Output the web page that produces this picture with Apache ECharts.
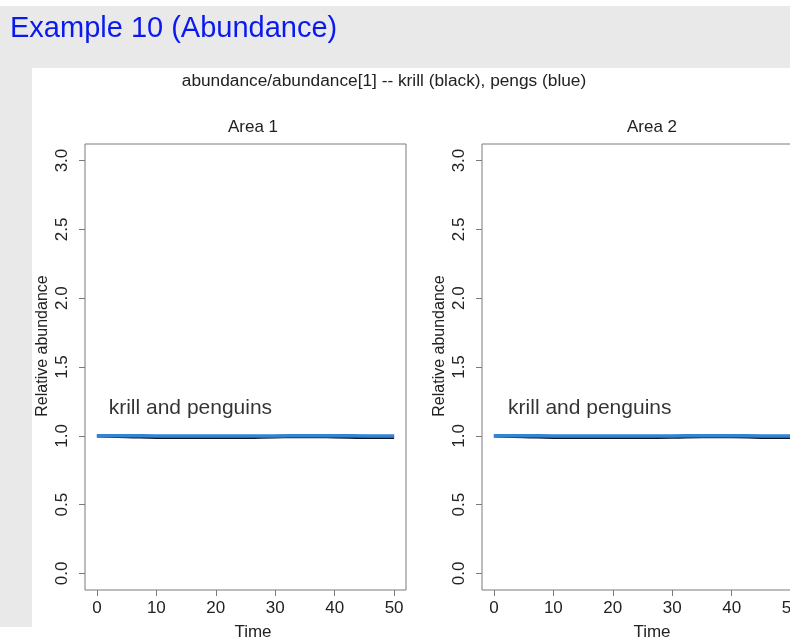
<!DOCTYPE html>
<html>
<head>
<meta charset="utf-8">
<title>Example 10 (Abundance)</title>
<script src="https://cdn.jsdelivr.net/npm/echarts@6/dist/echarts.min.js"></script>
<style>
    html, body { margin: 0; padding: 0; background: #ffffff; overflow: hidden; width: 790px; height: 637px; }
    #main { width: 830px; height: 637px; }
</style>
</head>
<body>
<div id="main"></div>
<script>
// time steps, relative abundance per area
var time = [0, 5, 10, 15, 20, 25, 30, 35, 40, 45, 50];
var krillArea1 = [1.000, 0.996, 0.990, 0.989, 0.989, 0.990, 0.994, 0.996, 0.994, 0.990, 0.989];
var pengsArea1 = [1.000, 1.000, 0.999, 0.998, 0.998, 0.998, 0.999, 1.000, 1.000, 0.999, 0.998];
var krillArea2 = [1.000, 0.996, 0.990, 0.989, 0.989, 0.990, 0.991, 0.995, 0.995, 0.990, 0.989];
var pengsArea2 = [1.000, 1.000, 0.999, 0.998, 0.998, 0.998, 0.999, 1.000, 1.000, 0.999, 0.998];
var xTicks = [0, 10, 20, 30, 40, 50];
var yTicks = [0, 0.5, 1, 1.5, 2, 2.5, 3];
var noteArea1 = [1.9, 1.2];
var noteArea2 = [2.3, 1.2];

var FONT = 'Arial, "Liberation Sans", sans-serif';
var BOX = '#7a7a7a';

function pairs(xs, ys) {
    return xs.map(function(x, i) { return [x, ys[i]]; });
}

function makeXAxis(idx) {
    return {
        type: 'value', gridIndex: idx, min: -2, max: 52,
        splitLine: { show: false },
        axisLine: { show: false, onZero: false },
        axisTick: { show: true, length: 6, customValues: xTicks, lineStyle: { color: BOX } },
        axisLabel: { customValues: xTicks, fontSize: 17, fontFamily: FONT, color: '#222', margin: 10 }
    };
}

function makeYAxis(idx) {
    return {
        type: 'value', gridIndex: idx, min: -0.12, max: 3.12,
        splitLine: { show: false },
        axisLine: { show: false, onZero: false },
        axisTick: { show: true, length: 6, customValues: yTicks, lineStyle: { color: BOX } },
        axisLabel: {
            customValues: yTicks, rotate: 90, fontSize: 17, fontFamily: FONT, color: '#222', margin: 14,
            formatter: function(v) { return v.toFixed(1); }
        }
    };
}

function lineSeries(idx, name, ys, color) {
    return {
        name: name, type: 'line', xAxisIndex: idx, yAxisIndex: idx,
        data: pairs(time, ys), showSymbol: false, smooth: true,
        lineStyle: { width: 3.5, color: color }
    };
}

function noteSeries(idx, pos) {
    return {
        type: 'scatter', xAxisIndex: idx, yAxisIndex: idx, data: [pos],
        symbolSize: 1, itemStyle: { color: 'rgba(0,0,0,0)' },
        label: {
            show: true, position: 'right', distance: 0,
            formatter: 'krill and penguins', fontSize: 21, fontFamily: FONT, color: '#000'
        }
    };
}

function txt(x, y, s, size, color, rot, align) {
    return {
        type: 'text', x: x, y: y, rotation: rot || 0, z: 10,
        style: { text: s, font: size + 'px ' + FONT, fill: color, align: align || 'center', verticalAlign: 'middle' }
    };
}

var myChart = echarts.init(document.getElementById('main'), null, { renderer: 'canvas' });
var option = {
    animation: false,
    backgroundColor: '#ffffff',
    graphic: [
        { type: 'rect', shape: { x: 0, y: 6, width: 830, height: 62 }, style: { fill: '#e9e9e9' }, z: -10 },
        { type: 'rect', shape: { x: 0, y: 6, width: 32, height: 621 }, style: { fill: '#e9e9e9' }, z: -10 },
        txt(10, 29, 'Example 10 (Abundance)', 29, '#0a1aee', 0, 'left'),
        txt(384, 81, 'abundance/abundance[1] -- krill (black), pengs (blue)', 17.3, '#222'),
        txt(253, 127, 'Area 1', 17, '#222'),
        txt(652, 127, 'Area 2', 17, '#222'),
        txt(253, 632, 'Time', 17, '#222'),
        txt(652, 632, 'Time', 17, '#222'),
        txt(43, 346, 'Relative abundance', 16, '#222', Math.PI / 2),
        txt(440, 346, 'Relative abundance', 16, '#222', Math.PI / 2)
    ],
    grid: [
        { left: 85, top: 144, width: 321, height: 446, show: true, borderColor: BOX, borderWidth: 1, backgroundColor: '#ffffff' },
        { left: 482, top: 144, width: 321, height: 446, show: true, borderColor: BOX, borderWidth: 1, backgroundColor: '#ffffff' }
    ],
    xAxis: [makeXAxis(0), makeXAxis(1)],
    yAxis: [makeYAxis(0), makeYAxis(1)],
    series: [
        lineSeries(0, 'krill', krillArea1, '#0b1626'),
        lineSeries(0, 'pengs', pengsArea1, '#3383d6'),
        noteSeries(0, noteArea1),
        lineSeries(1, 'krill', krillArea2, '#0b1626'),
        lineSeries(1, 'pengs', pengsArea2, '#3383d6'),
        noteSeries(1, noteArea2)
    ]
};
myChart.setOption(option);
</script>
</body>
</html>
